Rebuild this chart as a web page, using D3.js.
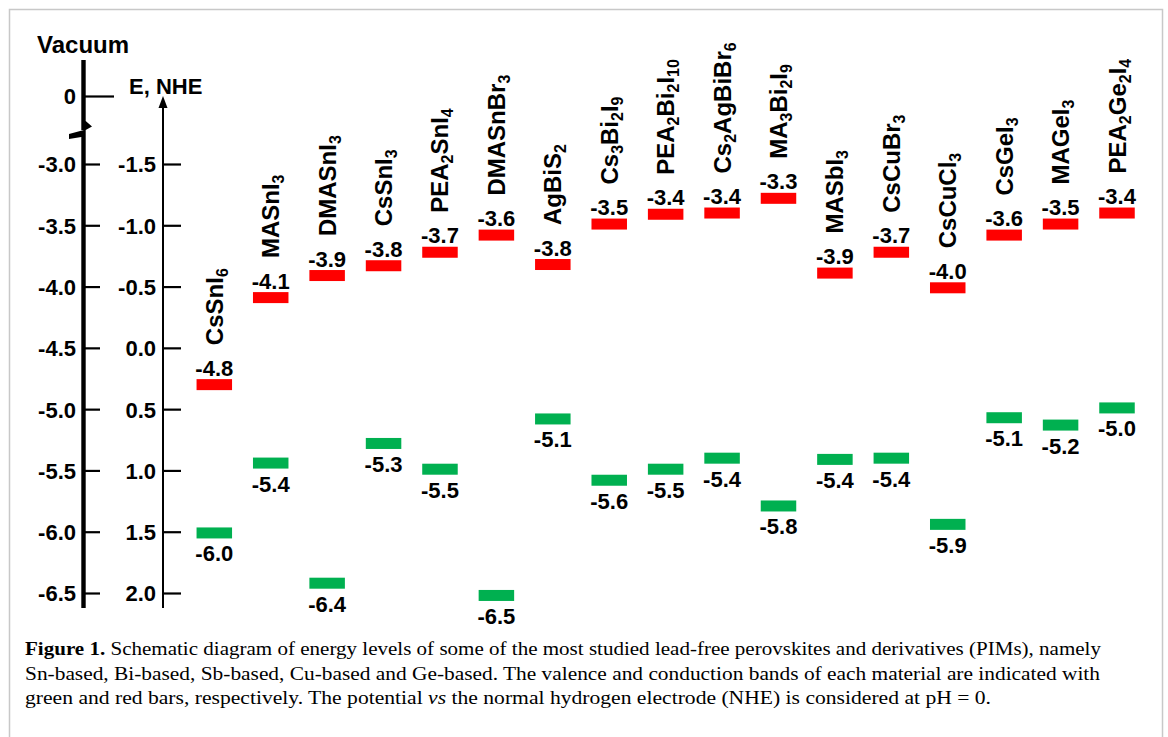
<!DOCTYPE html>
<html><head><meta charset="utf-8">
<script src="https://cdn.jsdelivr.net/npm/d3@7"></script>
<style>
body{margin:0;background:#fff}
.sans{font-family:"Liberation Sans",Arial,sans-serif;font-weight:bold;fill:#000}
.serif{font-family:"Liberation Serif","Times New Roman",serif;fill:#000}
</style>
</head><body>
<svg id="c" width="1168" height="737"></svg>
<script>
// ---------- data ----------
const materials = ["CsSnI6","MASnI3","DMASnI3","CsSnI3","PEA2SnI4","DMASnBr3","AgBiS2","Cs3Bi2I9","PEA2Bi2I10","Cs2AgBiBr6","MA3Bi2I9","MASbI3","CsCuBr3","CsCuCl3","CsGeI3","MAGeI3","PEA2Ge2I4"];
const cbValues = [-4.80,-4.09,-3.91,-3.83,-3.72,-3.58,-3.82,-3.49,-3.41,-3.40,-3.28,-3.89,-3.72,-4.01,-3.58,-3.49,-3.40];
const cbLabels = ["-4.8","-4.1","-3.9","-3.8","-3.7","-3.6","-3.8","-3.5","-3.4","-3.4","-3.3","-3.9","-3.7","-4.0","-3.6","-3.5","-3.4"];
const vbValues = [-6.01,-5.44,-6.42,-5.28,-5.49,-6.52,-5.08,-5.58,-5.49,-5.40,-5.79,-5.41,-5.40,-5.94,-5.07,-5.13,-4.99];
const vbLabels = ["-6.0","-5.4","-6.4","-5.3","-5.5","-6.5","-5.1","-5.6","-5.5","-5.4","-5.8","-5.4","-5.4","-5.9","-5.1","-5.2","-5.0"];
const vacuumTicks = [0,-3.0,-3.5,-4.0,-4.5,-5.0,-5.5,-6.0,-6.5];
const vacuumTickLabels = ["0","-3.0","-3.5","-4.0","-4.5","-5.0","-5.5","-6.0","-6.5"];
const nheTicks = [-1.5,-1.0,-0.5,0.0,0.5,1.0,1.5,2.0];
const nheTickLabels = ["-1.5","-1.0","-0.5","0.0","0.5","1.0","1.5","2.0"];
const captionLines = [
  [{t:"Figure 1.",b:true},{t:" Schematic diagram of energy levels of some of the most studied lead-free perovskites and derivatives (PIMs), namely"}],
  [{t:"Sn-based, Bi-based, Sb-based, Cu-based and Ge-based. The valence and conduction bands of each material are indicated with"}],
  [{t:"green and red bars, respectively. The potential "},{t:"vs",i:true},{t:" the normal hydrogen electrode (NHE) is considered at pH = 0."}]
];

// ---------- drawing ----------
const svg = d3.select("#c");
const W = 1168, H = 737;
const RED = "#ff0000", GREEN = "#00b050";

svg.append("rect").attr("x",9.5).attr("y",9.5).attr("width",1153).attr("height",H+10)
  .attr("fill","none").attr("stroke","#c8c8c8").attr("stroke-width",1.5);

const yVac = d3.scaleLinear().domain([-6.5,-3.0,0]).range([593,164,96]);
const yNhe = d3.scaleLinear().domain([-1.5,2.0]).range([164,593]);
const x = d3.scalePoint().domain(materials).range([214.3,1117]);

const axX = 83.5;
// vacuum axis line with break
const yTop = yVac(0) - 36, yBreak = (yVac(0)+yVac(-3.0))/2, yBot = yVac(-6.5) + 15;
svg.append("path")
  .attr("d",`M${axX-2.2},${yTop} H${axX+2.2} V${yBreak-9} L${axX+8.5},${yBreak-3.5} L${axX+2.2},${yBreak} H${axX-2.2} Z`)
  .attr("fill","#000");
svg.append("path")
  .attr("d",`M${axX-14.5},${yBreak+4} L${axX+2.2},${yBreak-0.5} V${yBot} H${axX-2.2} V${yBreak+7} L${axX-14.5},${yBreak+9} Z`)
  .attr("fill","#000");

// vacuum ticks (to the right of line)
const vt = svg.append("g").attr("transform",`translate(${axX+1.5},0)`)
  .call(d3.axisRight(yVac).tickValues(vacuumTicks).tickSize(15).tickFormat(""));
vt.select(".domain").remove();
vt.selectAll(".tick line").attr("stroke","#000").attr("stroke-width",2.2)
  .attr("x2",d=>d===0?29:15);

// vacuum labels (left)
const vl = svg.append("g").attr("transform","translate(76,0)")
  .call(d3.axisLeft(yVac).tickValues(vacuumTicks).tickSize(0).tickPadding(0)
    .tickFormat((d,i)=>vacuumTickLabels[i]));
vl.select(".domain").remove();
vl.selectAll(".tick text").attr("class","sans").attr("font-size",22).attr("dy","0.36em");
vl.attr("font-family",null).attr("font-size",null);

svg.append("text").attr("class","sans").attr("x",37).attr("y",53).attr("font-size",24).text("Vacuum");

// NHE axis
const nX = 163;
svg.append("line").attr("x1",nX).attr("x2",nX).attr("y1",yBot).attr("y2",yNhe(-1.5)-60)
  .attr("stroke","#000").attr("stroke-width",2);
svg.append("path").attr("d",`M${nX},${yNhe(-1.5)-68} L${nX-4.5},${yNhe(-1.5)-56} L${nX+4.5},${yNhe(-1.5)-56} Z`).attr("fill","#000");
const nt = svg.append("g").attr("transform",`translate(${nX},0)`)
  .call(d3.axisRight(yNhe).tickValues(nheTicks).tickSize(18).tickFormat(""));
nt.select(".domain").remove();
nt.selectAll(".tick line").attr("stroke","#000").attr("stroke-width",2.2);
const nl = svg.append("g").attr("transform","translate(156,0)")
  .call(d3.axisLeft(yNhe).tickValues(nheTicks).tickSize(0).tickPadding(0)
    .tickFormat((d,i)=>nheTickLabels[i]));
nl.select(".domain").remove();
nl.selectAll(".tick text").attr("class","sans").attr("font-size",22).attr("dy","0.36em");
nl.attr("font-family",null).attr("font-size",null);

svg.append("text").attr("class","sans").attr("x",129).attr("y",94).attr("font-size",22).text("E, NHE");

// bars
const bw = 35.5, bh = 11;
const data = materials.map((m,i)=>({m, cb:cbValues[i], vb:vbValues[i], cbl:cbLabels[i], vbl:vbLabels[i]}));
const g = svg.append("g");
g.selectAll("rect.cb").data(data).join("rect").attr("class","cb")
  .attr("x",d=>x(d.m)-bw/2).attr("y",d=>yVac(d.cb)-bh/2).attr("width",bw).attr("height",bh).attr("fill",RED);
g.selectAll("rect.vb").data(data).join("rect").attr("class","vb")
  .attr("x",d=>x(d.m)-bw/2).attr("y",d=>yVac(d.vb)-bh/2).attr("width",bw).attr("height",bh).attr("fill",GREEN);
g.selectAll("text.cbl").data(data).join("text").attr("class","sans cbl")
  .attr("x",d=>x(d.m)).attr("y",d=>yVac(d.cb)-9).attr("text-anchor","middle").attr("font-size",22).text(d=>d.cbl);
g.selectAll("text.vbl").data(data).join("text").attr("class","sans vbl")
  .attr("x",d=>x(d.m)).attr("y",d=>yVac(d.vb)+28.5).attr("text-anchor","middle").attr("font-size",22).text(d=>d.vbl);

// names (rotated, digits as subscripts)
g.selectAll("text.nm").data(data).join("text").attr("class","sans nm")
  .attr("font-size",24)
  .attr("transform",d=>`translate(${x(d.m)+8.5},${yVac(d.cb)-bh/2-34}) rotate(-90)`)
  .each(function(d){
    const t = d3.select(this);
    const parts = d.m.split(/(\d+)/).filter(s=>s.length);
    let sub = false;
    parts.forEach(p=>{
      const isNum = /^\d+$/.test(p);
      const ts = t.append("tspan").text(p);
      if(isNum){ ts.attr("font-size",16).attr("dy",sub?0:5); sub=true; }
      else { if(sub){ ts.attr("dy",-5); } sub=false; }
    });
  });

// caption
const capX = 25, capY = [655,679.5,704], capW = [1076,1075,966];
captionLines.forEach((line,li)=>{
  const t = svg.append("text").attr("class","serif").attr("x",capX).attr("y",capY[li])
    .attr("font-size",19).attr("textLength",capW[li]).attr("lengthAdjust","spacingAndGlyphs");
  line.forEach(s=>{
    const ts = t.append("tspan").text(s.t);
    if(s.b) ts.attr("font-weight","bold");
    if(s.i) ts.attr("font-style","italic");
  });
});
</script>
</body></html>
